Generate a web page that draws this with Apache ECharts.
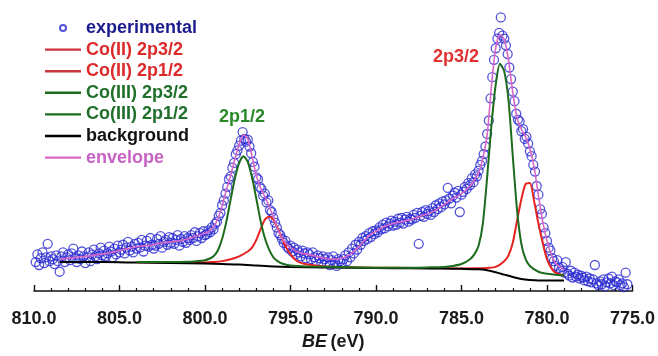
<!DOCTYPE html>
<html>
<head>
<meta charset="utf-8">
<script src="https://cdn.jsdelivr.net/npm/echarts@6/dist/echarts.min.js"></script>
<style>
  html, body { margin: 0; padding: 0; background: #fff; }
  #chart { width: 658px; height: 356px; }
</style>
</head>
<body>
<div id="chart"></div>
<script>
// Co 2p XPS spectrum: measured counts (arbitrary units), 0.1 eV steps from 809.9 eV down to 775.3 eV
const expStart = 809.9;
const expStep = 0.1;
const expI = [
  30, 38, 27, 34, 40, 29, 35, 49, 31, 36,
  33, 28, 37, 31, 20, 36, 40, 30, 35, 38,
  32, 39, 44, 34, 30, 37, 33, 41, 36, 29,
  35, 40, 31, 38, 43, 36, 33, 39, 45, 37,
  42, 36, 39, 46, 41, 35, 44, 38, 47, 40,
  43, 48, 39, 45, 51, 42, 46, 40, 49, 44,
  50, 45, 53, 41, 47, 52, 46, 55, 48, 44,
  47, 54, 49, 57, 45, 51, 53, 48, 56, 50,
  55, 49, 53, 58, 47, 54, 51, 57, 50, 55,
  53, 58, 55, 61, 52, 57, 60, 55, 62, 58,
  59, 63, 61, 66, 64, 70, 72, 78, 81, 89,
  94, 101, 108, 116, 119, 128, 133, 142, 146, 151,
  156, 165, 158, 155, 157, 150, 143, 134, 129, 118,
  116, 108, 106, 99, 101, 92, 94, 84, 82, 76,
  71, 66, 60, 58, 54, 50, 52, 46, 44, 47,
  41, 45, 38, 43, 40, 36, 42, 39, 34, 40,
  38, 33, 40, 35, 31, 37, 34, 29, 36, 33,
  30, 35, 27, 32, 36, 30, 26, 33, 31, 29,
  33, 37, 31, 40, 35, 44, 39, 48, 43, 51,
  48, 55, 52, 57, 54, 60, 56, 62, 59, 63,
  61, 66, 64, 69, 65, 71, 67, 70, 73, 68,
  72, 69, 75, 71, 76, 70, 74, 77, 72, 75,
  74, 79, 76, 81, 49, 78, 82, 77, 84, 80,
  83, 79, 86, 82, 89, 85, 91, 87, 93, 90,
  94, 107, 96, 91, 99, 102, 97, 104, 82, 100,
  103, 108, 106, 112, 110, 117, 113, 121, 119, 125,
  131, 135, 142, 150, 163, 177, 200, 222, 240, 252,
  262, 268, 284, 265, 262, 255, 246, 232, 220, 207,
  197, 184, 178, 176, 166, 168, 158, 160, 153, 145,
  140, 131, 124, 109, 100, 85, 80, 66, 60, 52,
  45, 42, 34, 31, 26, 32, 24, 21, 25, 19,
  30, 18, 16, 21, 14, 19, 15, 17, 13, 16,
  14, 11, 15, 10, 13, 9, 12, 27, 8, 6,
  10, 7, 12, 5, 9, 13, 8, 15, 6, 10,
  9, 12, 6, 8, 4, 19, 7
];

// Shirley-type background
const bgE = [808.5, 806, 804, 802, 800, 799, 798, 797, 796, 795, 793, 790, 788, 786, 785, 784, 783.5, 783, 782.5, 782, 781.5, 781, 780.5, 780, 779];
const bgI = [30, 30, 29.5, 29, 28.5, 28, 27.5, 26.5, 25.5, 25, 24.5, 24, 23.5, 23.3, 23, 22.5, 21.5, 19.5, 17, 14.5, 12.5, 11.5, 11, 11, 11];

// Co(III) 2p1/2 component (on background)
const co3p12E = [804, 802, 801, 800.5, 800, 799.75, 799.5, 799.25, 799, 798.75, 798.5, 798.25, 798, 797.75, 797.5, 797.25, 797, 796.75, 796.5, 796.25, 796, 795.75, 795.5, 795, 794, 792, 790];
const co3p12I = [30.2, 30.0, 30.3, 31.0, 32.0, 33.5, 36, 42, 54, 72, 95, 117, 133, 140, 134, 118, 96, 73, 55, 43, 35, 31, 28.5, 26.5, 25.5, 24.8, 24.2];

// Co(II) 2p1/2 component
const co2p12E = [804, 801, 800, 799.5, 799, 798.5, 798, 797.5, 797.25, 797, 796.75, 796.5, 796.25, 796, 795.75, 795.5, 795.25, 795, 794.75, 794.5, 794, 793, 792, 790];
const co2p12I = [29.8, 29.5, 29.5, 30, 31, 33, 36, 41, 45, 53, 64, 74, 77, 74, 65, 55, 45, 38, 33, 30, 27.5, 25.5, 24.8, 24.2];

// Co(III) 2p3/2 component
const co3p32E = [790, 788, 787, 786, 785.5, 785, 784.5, 784.25, 784, 783.75, 783.5, 783.25, 783, 782.75, 782.5, 782.25, 782, 781.75, 781.5, 781.25, 781, 780.5, 780, 779];
const co3p32I = [24.2, 24.2, 24.5, 25, 26, 28, 33, 38, 47, 70, 118, 172, 214, 236, 228, 198, 140, 84, 49, 33, 26, 20, 18, 16];

// Co(II) 2p3/2 component
const co2p32E = [790, 788, 786, 785, 784, 783.5, 783, 782.5, 782.25, 782, 781.75, 781.5, 781.25, 781, 780.75, 780.5, 780.25, 780, 779.75, 779.5, 779];
const co2p32I = [24.2, 24, 23.6, 23.4, 23.5, 24, 25, 31, 37, 50, 73, 95, 111, 112, 93, 70, 50, 33, 24, 19, 16];

// Fitted envelope
const envE = [808.5, 807.5, 806.5, 805.5, 805.0, 804.5, 804.0, 803.5, 803.0, 802.5, 802.0, 801.5, 801.0, 800.5, 800.0, 799.75, 799.5, 799.25, 799.0, 798.75, 798.5, 798.25, 798.0, 797.75, 797.5, 797.25, 797.0, 796.75, 796.5, 796.25, 796.0, 795.75, 795.5, 795.25, 795.0, 794.5, 794.0, 793.5, 793.0, 792.5, 792.0, 791.5, 791.0, 790.5, 790.0, 789.5, 789.0, 788.5, 788.0, 787.5, 787.0, 786.5, 786.0, 785.5, 785.0, 784.5, 784.25, 784.0, 783.75, 783.5, 783.25, 783.0, 782.75, 782.5, 782.25, 782.0, 781.75, 781.5, 781.25, 781.0, 780.75, 780.5, 780.25, 780.0, 779.75, 779.5, 779.0];
const envI = [33, 35, 37, 40, 42, 44, 46, 47, 48, 50, 51, 52, 54, 57, 60, 62, 66, 75, 88, 105, 120, 137, 152, 162, 158, 140, 120, 107, 98, 88, 77, 64, 55, 49, 45, 40, 38, 36, 34, 33, 34, 38, 46, 56, 62, 67, 70, 72, 74, 77, 80, 84, 90, 96, 101, 109, 115, 123, 138, 162, 212, 252, 266, 261, 240, 206, 180, 168, 160, 148, 128, 99, 72, 52, 38, 29, 22];

const FONT = '"Liberation Sans", Arial, sans-serif';
const BLUE = '#2b2bd2';
const RED = '#e52320';
const GREEN = '#1d6b1d';
const PINK = '#d868c8';
// plain bar used as the legend key of the fitted curves
const LINE_ICON = 'path://M0,0H36V2.4H0Z';

const pairs = (xs, ys) => xs.map((x, i) => [x, ys[i]]);
const expData = expI.map((v, i) => [+(expStart - i * expStep).toFixed(1), v]);

function fitLine(name, xs, ys, color, width, z) {
  return {
    name, type: 'line', data: pairs(xs, ys), symbol: 'none', smooth: 0.25,
    lineStyle: { color, width }, itemStyle: { color }, z, silent: true
  };
}

const chart = echarts.init(document.getElementById('chart'), null, { renderer: 'canvas' });
chart.setOption({
  animation: false,
  backgroundColor: '#fff',
  grid: { left: 34, right: 23, top: 2, bottom: 54 },
  legend: {
    orient: 'vertical', left: 40, top: 13,
    itemWidth: 36, itemHeight: 6, itemGap: 1.6,
    symbolKeepAspect: true,
    textStyle: { fontFamily: FONT, fontWeight: 'bold', fontSize: 18, lineHeight: 20 },
    data: [
      { name: 'experimental', textStyle: { color: '#1c1c8e' } },
      { name: 'Co(II) 2p3/2', icon: LINE_ICON, itemStyle: { color: '#cc3440' }, textStyle: { color: '#dc2a2a' } },
      { name: 'Co(II) 2p1/2', icon: LINE_ICON, itemStyle: { color: '#cc3440' }, textStyle: { color: '#dc2a2a' } },
      { name: 'Co(III) 2p3/2', icon: LINE_ICON, itemStyle: { color: GREEN }, textStyle: { color: '#1f6e2a' } },
      { name: 'Co(III) 2p1/2', icon: LINE_ICON, itemStyle: { color: GREEN }, textStyle: { color: '#1f6e2a' } },
      { name: 'background', icon: LINE_ICON, itemStyle: { color: '#000' }, textStyle: { color: '#111' } },
      { name: 'envelope', icon: LINE_ICON, itemStyle: { color: PINK }, textStyle: { color: '#c862c4' } }
    ]
  },
  xAxis: {
    type: 'value', min: 775, max: 810, interval: 5, inverse: true,
    axisLine: { lineStyle: { color: '#111', width: 1.6 } },
    axisTick: { inside: true, length: 6, lineStyle: { color: '#111', width: 1.4 } },
    minorTick: { show: true, splitNumber: 5, length: 3, lineStyle: { color: '#111', width: 1.2 } },
    splitLine: { show: false },
    axisLabel: {
      formatter: v => v.toFixed(1), margin: 19,
      fontFamily: FONT, fontWeight: 'bold', fontSize: 18, color: '#1a1a1a'
    },
    name: '{i|BE} {n|(eV)}', nameLocation: 'middle', nameGap: 42,
    nameTextStyle: {
      color: '#1a1a1a',
      rich: {
        i: { fontFamily: FONT, fontStyle: 'italic', fontWeight: 'bold', fontSize: 18, color: '#1a1a1a' },
        n: { fontFamily: FONT, fontWeight: 'bold', fontSize: 18, color: '#1a1a1a' }
      }
    }
  },
  yAxis: { type: 'value', min: 0, max: 300, show: false },
  series: [
    {
      name: 'experimental', type: 'scatter', data: expData,
      symbol: 'circle', symbolSize: 9,
      itemStyle: { color: 'rgba(0,0,0,0)', borderColor: BLUE, borderWidth: 1.3 },
      z: 2, silent: true
    },
    fitLine('Co(II) 2p3/2', co2p32E, co2p32I, RED, 2, 3),
    fitLine('Co(II) 2p1/2', co2p12E, co2p12I, RED, 2, 3),
    fitLine('Co(III) 2p3/2', co3p32E, co3p32I, GREEN, 2, 4),
    fitLine('Co(III) 2p1/2', co3p12E, co3p12I, GREEN, 2, 4),
    fitLine('background', bgE, bgI, '#000', 2, 3),
    fitLine('envelope', envE, envI, PINK, 1.6, 5)
  ],
  graphic: [
    { type: 'text', x: 242, y: 117, style: { text: '2p1/2', fill: '#2a8a2a', font: 'bold 18px ' + FONT, align: 'center', verticalAlign: 'middle' } },
    { type: 'text', x: 456, y: 57, style: { text: '2p3/2', fill: '#e03030', font: 'bold 18px ' + FONT, align: 'center', verticalAlign: 'middle' } }
  ]
});
</script>
</body>
</html>
